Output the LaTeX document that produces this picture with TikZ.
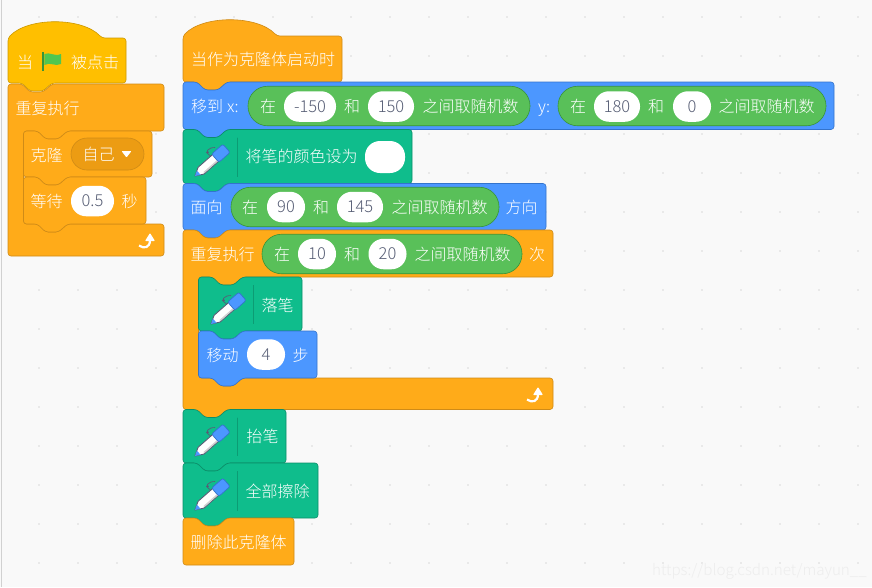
\documentclass[tikz,border=0pt]{standalone}
\usepackage{fontspec}
\setmainfont{Noto Sans CJK SC Light}
\definecolor{sheet}{HTML}{F9F9F9}
\definecolor{sheetdot}{HTML}{E9E9E9}
\definecolor{motionfill}{HTML}{4C97FF}
\definecolor{motionline}{HTML}{3373CC}
\definecolor{controlfill}{HTML}{FFAB19}
\definecolor{controlline}{HTML}{CF8B17}
\definecolor{menufill}{HTML}{EC9C13}
\definecolor{eventfill}{HTML}{FFBF00}
\definecolor{eventline}{HTML}{CC9900}
\definecolor{penfill}{HTML}{0FBD8C}
\definecolor{penline}{HTML}{0B8E69}
\definecolor{opfill}{HTML}{59C059}
\definecolor{opline}{HTML}{389438}
\definecolor{valtext}{HTML}{575E75}
\tikzset{
	motion/.style={fill=motionfill,draw=motionline,line width=.6pt,rounded corners=3pt},
	control/.style={fill=controlfill,draw=controlline,line width=.6pt,rounded corners=3pt},
	event/.style={fill=eventfill,draw=eventline,line width=.6pt,rounded corners=3pt},
	pen/.style={fill=penfill,draw=penline,line width=.6pt,rounded corners=3pt},
	lbl/.style={anchor=west,inner sep=0pt,text=white,text height=14pt,text depth=2pt,font=\fontsize{16}{18}\selectfont},
	randpill/.style={fill=opfill,draw=opline,line width=.6pt,rounded corners=19.5pt,minimum height=39.5pt,inner sep=0pt},
	numpill/.style={fill=white,rounded corners=15pt,minimum height=30.5pt,inner sep=0pt,text=valtext,font=\fontsize{16.5}{18}\selectfont},
	menupill/.style={fill=menufill,draw=controlline,line width=.6pt,rounded corners=16pt,minimum height=32pt,inner sep=0pt}
}
\newcommand{\stackblock}[5]{
	\draw[#1] (#2,#3+12) -- (#2,#3) -- (#2+14,#3) -- (#2+22,#3+8) -- (#2+35,#3+8) -- (#2+44,#3) -- (#4,#3) -- (#4,#5)
		-- (#2+44,#5) -- (#2+35,#5+8) -- (#2+22,#5+8) -- (#2+14,#5) -- (#2,#5) -- cycle;
}
\newcommand{\capblock}[5]{
	\draw[#1] (#2,#3+12) -- (#2,#3) -- (#2+14,#3) -- (#2+22,#3+8) -- (#2+35,#3+8) -- (#2+44,#3) -- (#4,#3) -- (#4,#5) -- (#2,#5) -- cycle;
}
\newcommand{\hatblock}[5]{
	\draw[#1] (#2,#3+12) -- (#2,#3) .. controls (#2+20,#3-21) and (#2+74,#3-21) .. (#2+94,#3) -- (#4,#3) -- (#4,#5)
		-- (#2+44,#5) -- (#2+35,#5+8) -- (#2+22,#5+8) -- (#2+14,#5) -- (#2,#5) -- cycle;
}
\newcommand{\loopblock}[8]{
	\draw[#1] (#2,#3+12) -- (#2,#3) -- (#2+14,#3) -- (#2+22,#3+8) -- (#2+35,#3+8) -- (#2+44,#3) -- (#4,#3) -- (#4,#5)
		-- (#8+44,#5) -- (#8+35,#5+8) -- (#8+22,#5+8) -- (#8+14,#5) -- (#8,#5) -- (#8,#6)
		-- (#8+14,#6) -- (#8+22,#6+8) -- (#8+35,#6+8) -- (#8+44,#6) -- (#4,#6) -- (#4,#7)
		-- (#2+44,#7) -- (#2+35,#7+8) -- (#2+22,#7+8) -- (#2+14,#7) -- (#2,#7) -- cycle;
}
\newcommand{\foreverblock}[8]{
	\draw[#1] (#2,#3+12) -- (#2,#3) -- (#2+14,#3) -- (#2+22,#3+8) -- (#2+35,#3+8) -- (#2+44,#3) -- (#4,#3) -- (#4,#5)
		-- (#8+44,#5) -- (#8+35,#5+8) -- (#8+22,#5+8) -- (#8+14,#5) -- (#8,#5) -- (#8,#6)
		-- (#8+14,#6) -- (#8+22,#6+8) -- (#8+35,#6+8) -- (#8+44,#6) -- (#4,#6) -- (#4,#7) -- (#2,#7) -- cycle;
}
\newcommand{\penicon}[2]{
	\begin{scope}[shift={(#1,#2)},x={(.75pt,.66pt)},y={(-.66pt,.75pt)}]
		\draw[valtext,line width=.7pt] (25,5) .. controls (22,12) and (29,13) .. (34,8);
		\fill[valtext] (25,9.5) circle (1.5pt);
		\draw[fill=white,draw=valtext,line width=.9pt,line join=round] (0,0) -- (8,4.5) -- (28,4.5) -- (28,-4.5) -- (8,-4.5) -- cycle;
		\fill[motionfill] (0,0) -- (5,2.8) -- (5,-2.8) -- cycle;
		\fill[black!18] (9,-2.6) -- (27,-2.6) -- (27,-4) -- (9,-4) -- cycle;
		\draw[fill=motionfill,draw=motionline,line width=.7pt,rounded corners=2pt] (27,5.5) -- (42,5.5) -- (42,-5.5) -- (27,-5.5) -- cycle;
	\end{scope}
}
\newcommand{\loopicon}[2]{
	\draw[white,line width=2.2pt] (#1-11,#2+12.5) .. controls (#1-6,#2+16) and (#1,#2+15) .. (#1,#2+7);
	\fill[white,rounded corners=.8pt] (#1-5,#2+8) -- (#1,#2) -- (#1+5,#2+8) -- cycle;
}
\begin{document}
\begin{tikzpicture}[x=1pt,y=-1pt]
	\fill[sheet] (0,0) rectangle (872,587);
	\useasboundingbox (0,0) rectangle (872,587);
	\draw[black!18,line width=.8pt] (1.5,0) -- (1.5,587);
	\foreach \col in {1,...,22}
		\foreach \row in {0,...,14}
			\fill[sheetdot] (39*\col-1,17+39*\row-1) rectangle (39*\col+1,17+39*\row+1);

	\hatblock{event}{8}{38}{126}{83}
	\foreverblock{control}{8}{84}{164}{131}{224}{256}{23.5}
	\stackblock{control}{23.5}{131}{152}{177}
	\stackblock{control}{23.5}{177}{146}{224}
	\node (whenlbl) [lbl] at (17,62) {当};
	\fill[opline] (42,52) rectangle (44.3,71);
	\fill[opfill!90!green] (44.3,54) .. controls (50,51.5) and (54,57) .. (61,54) -- (61,64) .. controls (55,67) and (50,61.5) .. (44.3,65) -- cycle;
	\node (clicklbl) [lbl] at (71,62) {被点击};
	\node (foreverlbl) [lbl] at (15.5,108) {重复执行};
	\node (clonelbl) [lbl] at (30.5,155) {克隆};
	\node (selfmenu) [menupill,minimum width=73pt] at (107.5,154) {};
	\node (selflbl) [lbl] at (82.5,154.5) {自己};
	\fill[white,rounded corners=.8pt] (121.5,151) -- (131.5,151) -- (126.5,157.5) -- cycle;
	\node (waitlbl) [lbl] at (30.5,201) {等待};
	\node (waitval) [numpill,minimum width=43pt] at (92.5,201) {0.5};
	\node (secondlbl) [lbl] at (121.5,201) {秒};
	\loopicon{150}{233}

	\hatblock{control}{183}{36}{342}{82}
	\stackblock{motion}{183}{82}{834}{129.5}
	\stackblock{pen}{183}{129.5}{412}{183.5}
	\stackblock{motion}{183}{183.5}{546}{230}
	\loopblock{control}{183}{230}{553}{277}{378}{409.5}{198.5}
	\stackblock{pen}{198.5}{277}{302}{331}
	\stackblock{motion}{198.5}{331}{317}{378}
	\stackblock{pen}{183}{409.5}{286}{463}
	\stackblock{pen}{183}{463}{318}{518}
	\capblock{control}{183}{518}{294}{565}

	\node (clonestart) [lbl] at (191,59) {当作为克隆体启动时};

	\node (movelbl) [lbl] at (191,106.5) {移到};
	\node (xlbl) [lbl] at (227,106.5) {x:};
	\node (randxpill) [randpill,minimum width=282pt] at (389,106) {};
	\node (randxa) [lbl] at (260,106.5) {在};
	\node (xlow) [numpill,minimum width=52pt] at (310,106.5) {-150};
	\node (randxb) [lbl] at (344,106.5) {和};
	\node (xhigh) [numpill,minimum width=46pt] at (391,106.5) {150};
	\node (randxc) [lbl] at (422.5,106.5) {之间取随机数};
	\node (ylbl) [lbl] at (538,106.5) {y:};
	\node (randypill) [randpill,minimum width=268pt] at (692,106) {};
	\node (randya) [lbl] at (570,106.5) {在};
	\node (ylow) [numpill,minimum width=46pt] at (617,106.5) {180};
	\node (randyb) [lbl] at (648,106.5) {和};
	\node (yhigh) [numpill,minimum width=38pt] at (692,106.5) {0};
	\node (randyc) [lbl] at (718.5,106.5) {之间取随机数};

	\node (colorlbl) [lbl] at (245.5,156) {将笔的颜色设为};
	\node (colorval) [numpill,minimum width=40pt,minimum height=32pt] at (385,157) {};

	\node (facelbl) [lbl] at (190.5,207) {面向};
	\node (randfpill) [randpill,minimum width=268pt] at (365,207) {};
	\node (randfa) [lbl] at (242,207) {在};
	\node (flow) [numpill,minimum width=38pt] at (286,207) {90};
	\node (randfb) [lbl] at (313,207) {和};
	\node (fhigh) [numpill,minimum width=46pt] at (360,207) {145};
	\node (randfc) [lbl] at (391.5,207) {之间取随机数};
	\node (dirlbl) [lbl] at (505.5,207) {方向};

	\node (repeatlbl) [lbl] at (190.5,254) {重复执行};
	\node (randrpill) [randpill,minimum width=260pt] at (392,254) {};
	\node (randra) [lbl] at (274,254) {在};
	\node (rlow) [numpill,minimum width=38pt] at (317,254) {10};
	\node (randrb) [lbl] at (344,254) {和};
	\node (rhigh) [numpill,minimum width=38pt] at (387.5,254) {20};
	\node (randrc) [lbl] at (414.5,254) {之间取随机数};
	\node (timeslbl) [lbl] at (529,254) {次};

	\node (pendownlbl) [lbl] at (261.5,305) {落笔};
	\node (steplbl) [lbl] at (206.5,355) {移动};
	\node (stepval) [numpill,minimum width=38pt] at (266,354.5) {4};
	\node (stepunit) [lbl] at (292.5,355) {步};
	\loopicon{538}{387}

	\node (penuplbl) [lbl] at (246.5,436) {抬笔};
	\node (eraselbl) [lbl] at (245.5,491) {全部擦除};
	\node (deletelbl) [lbl] at (190.5,542) {删除此克隆体};

	\foreach \tipx/\tipy in {195/176,211/324,195/456,195/510}
		\penicon{\tipx}{\tipy}
	\foreach \sepx/\sepa/\sepb in {237.5/137.5/177,253.5/285/324,237.5/417.5/456,237.5/471/511}
		\draw[penline!70!penfill,line width=.8pt] (\sepx,\sepa) -- (\sepx,\sepb);

	\node (mark) [lbl,text=black!7,font=\fontsize{15.2}{18}\selectfont] at (652,569) {https://blog.csdn.net/mayun\_\_};
\end{tikzpicture}
\end{document}
